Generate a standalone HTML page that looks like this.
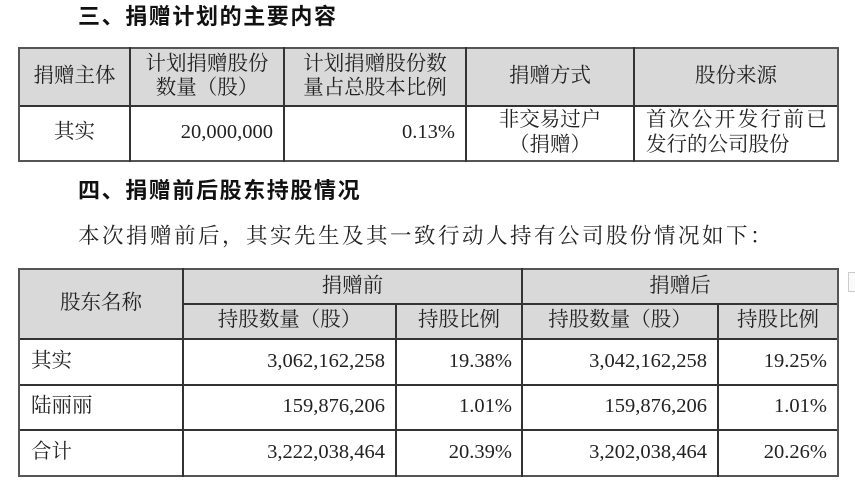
<!DOCTYPE html>
<html><head><meta charset="utf-8">
<style>
html,body{margin:0;padding:0;background:#fff;}
body{width:855px;height:489px;position:relative;overflow:hidden;font-family:"Liberation Serif","Noto Serif CJK SC",serif;color:#222;}
.a{position:absolute;white-space:nowrap;line-height:1;}
.h{font-family:"Liberation Sans","Noto Sans CJK SC",sans-serif;font-weight:bold;font-size:22px;letter-spacing:1.6px;color:#111;}
.t{font-size:20.5px;}
.n{font-size:20.5px;}
.bg{position:absolute;background:#d9d9d9;}
.hl{position:absolute;height:2px;background:#333;}
.vl{position:absolute;width:2px;background:#333;}
.c{text-align:center;}
.r{text-align:right;}
</style></head><body>

<div class="a h" style="left:78px;top:6px;">三、捐赠计划的主要内容</div>

<!-- table 1 -->
<div class="bg" style="left:19px;top:48px;width:819px;height:58px;"></div>
<div class="hl" style="left:19px;top:47px;width:820px;background:#555;"></div>
<div class="hl" style="left:19px;top:105px;width:820px;"></div>
<div class="hl" style="left:19px;top:160px;width:820px;background:#555;"></div>
<div class="vl" style="left:18px;top:47px;height:115px;background:#555;"></div>
<div class="vl" style="left:129px;top:47px;height:115px;"></div>
<div class="vl" style="left:283px;top:47px;height:115px;"></div>
<div class="vl" style="left:465px;top:47px;height:115px;"></div>
<div class="vl" style="left:633px;top:47px;height:115px;"></div>
<div class="vl" style="left:837px;top:47px;height:115px;background:#555;"></div>

<div class="a t c" style="left:19px;width:111px;top:66px;">捐赠主体</div>
<div class="a t c" style="left:130px;width:154px;top:54px;">计划捐赠股份</div>
<div class="a t c" style="left:130px;width:154px;top:78px;">数量（股）</div>
<div class="a t c" style="left:284px;width:182px;top:54px;">计划捐赠股份数</div>
<div class="a t c" style="left:284px;width:182px;top:78px;">量占总股本比例</div>
<div class="a t c" style="left:466px;width:168px;top:66px;">捐赠方式</div>
<div class="a t c" style="left:634px;width:204px;top:66px;">股份来源</div>

<div class="a t c" style="left:19px;width:111px;top:122px;">其实</div>
<div class="a n r" style="left:130px;width:143px;top:122px;">20,000,000</div>
<div class="a n r" style="left:284px;width:171px;top:122px;">0.13%</div>
<div class="a t c" style="left:466px;width:168px;top:110px;">非交易过户</div>
<div class="a t c" style="left:466px;width:168px;top:135px;">（捐赠）</div>
<div class="a t" style="left:646px;top:110px;letter-spacing:2.4px;">首次公开发行前已</div>
<div class="a t" style="left:646px;top:135px;">发行的公司股份</div>

<div class="a h" style="left:78px;top:180px;">四、捐赠前后股东持股情况</div>
<div class="a" style="left:78px;top:226px;font-size:21.5px;letter-spacing:2.5px;">本次捐赠前后，其实先生及其一致行动人持有公司股份情况如下：</div>

<!-- table 2 -->
<div class="bg" style="left:19px;top:269px;width:819px;height:70px;"></div>
<div class="hl" style="left:19px;top:268px;width:820px;background:#555;"></div>
<div class="hl" style="left:183px;top:303px;width:656px;"></div>
<div class="hl" style="left:19px;top:338px;width:820px;"></div>
<div class="hl" style="left:19px;top:384px;width:820px;"></div>
<div class="hl" style="left:19px;top:429px;width:820px;"></div>
<div class="hl" style="left:19px;top:475px;width:820px;background:#555;"></div>
<div class="vl" style="left:18px;top:268px;height:209px;background:#555;"></div>
<div class="vl" style="left:182px;top:268px;height:209px;"></div>
<div class="vl" style="left:395px;top:303px;height:174px;"></div>
<div class="vl" style="left:521px;top:268px;height:209px;"></div>
<div class="vl" style="left:717px;top:303px;height:174px;"></div>
<div class="vl" style="left:837px;top:268px;height:209px;background:#555;"></div>

<div class="a t c" style="left:19px;width:164px;top:293px;">股东名称</div>
<div class="a t c" style="left:183px;width:339px;top:276px;">捐赠前</div>
<div class="a t c" style="left:522px;width:316px;top:276px;">捐赠后</div>
<div class="a t c" style="left:183px;width:213px;top:310px;">持股数量（股）</div>
<div class="a t c" style="left:396px;width:126px;top:310px;">持股比例</div>
<div class="a t c" style="left:522px;width:196px;top:310px;">持股数量（股）</div>
<div class="a t c" style="left:718px;width:120px;top:310px;">持股比例</div>

<div class="a t" style="left:31px;top:351px;">其实</div>
<div class="a t" style="left:31px;top:396px;">陆丽丽</div>
<div class="a t" style="left:31px;top:442px;">合计</div>

<div class="a n r" style="left:183px;width:202px;top:351px;">3,062,162,258</div>
<div class="a n r" style="left:396px;width:116px;top:351px;">19.38%</div>
<div class="a n r" style="left:522px;width:185px;top:351px;">3,042,162,258</div>
<div class="a n r" style="left:718px;width:109px;top:351px;">19.25%</div>

<div class="a n r" style="left:183px;width:202px;top:396px;">159,876,206</div>
<div class="a n r" style="left:396px;width:116px;top:396px;">1.01%</div>
<div class="a n r" style="left:522px;width:185px;top:396px;">159,876,206</div>
<div class="a n r" style="left:718px;width:109px;top:396px;">1.01%</div>

<div class="a n r" style="left:183px;width:202px;top:442px;">3,222,038,464</div>
<div class="a n r" style="left:396px;width:116px;top:442px;">20.39%</div>
<div class="a n r" style="left:522px;width:185px;top:442px;">3,202,038,464</div>
<div class="a n r" style="left:718px;width:109px;top:442px;">20.26%</div>

<div style="position:absolute;left:848px;top:272px;width:10px;height:18px;border:1px solid #ccc;background:#fafafa;"></div>
</body></html>
